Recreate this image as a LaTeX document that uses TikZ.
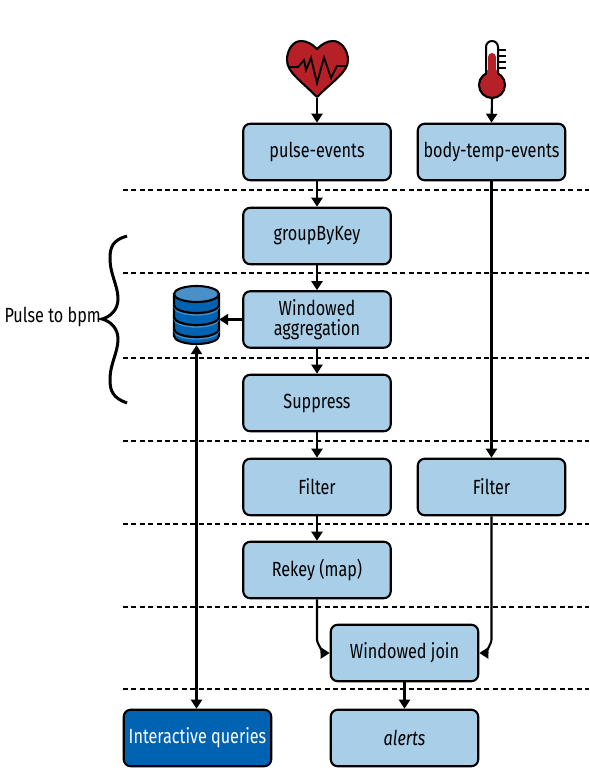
\documentclass[tikz,border=0pt]{standalone}
\usepackage{fontspec}
\setmainfont[FakeStretch=0.79]{Fira Sans}
\usetikzlibrary{arrows.meta}

\definecolor{boxblue}{RGB}{169,206,232}
\definecolor{deepblue}{RGB}{0,99,177}
\definecolor{paleblue}{RGB}{74,144,200}
\definecolor{heartred}{RGB}{184,32,40}

\tikzset{
 opbox/.style={draw,line width=2.1pt,rounded corners=7pt,fill=boxblue,
  minimum width=147.5pt,minimum height=56.5pt,font=\fontsize{20.5}{20.5}\selectfont,
  align=center,inner sep=0pt},
 iconspot/.style={inner sep=0pt,minimum width=#1},
 flow/.style={line width=2.1pt,-{Triangle[length=9pt,width=11pt]}},
 cut/.style={line width=1.6pt,dash pattern=on 5pt off 3.4pt},
}

\begin{document}
\begin{tikzpicture}[x=1pt,y=-1pt]
\useasboundingbox (0,0) rectangle (589,781);

% section lines
\foreach \yline in {190,273,358,441,524,607,689}
 \draw[cut] (123,\yline) -- (589,\yline);

% boxes
\node[opbox] (pulse) at (317,152) {pulse-events};
\node[opbox] (bodytemp) at (491.5,152) {body-temp-events};
\node[opbox] (group) at (317,236) {groupByKey};
\node[opbox] (windowed) at (317,319.5) {Windowed\\aggregation};
\node[opbox] (suppress) at (317,403) {Suppress};
\node[opbox] (filterl) at (317,487) {Filter};
\node[opbox] (filterr) at (491.5,487) {Filter};
\node[opbox] (rekey) at (317,570) {Rekey (map)};
\node[opbox] (join) at (404.5,653) {Windowed join};
\node[opbox,fill=deepblue,text=white] (queries) at (197.5,738) {Interactive queries};
\node[opbox] (alerts) at (404.5,738) {\itshape alerts};

% heart
\node[iconspot=62pt,minimum height=57pt] (heart) at (317,69) {};
\draw[line width=2.1pt,fill=heartred,line join=round] (317,49)
 .. controls (312,44) and (307,41) .. (301,41)
 .. controls (293,41) and (287,50) .. (287,60)
 .. controls (287,72) and (300,80) .. (317,97)
 .. controls (334,80) and (348,72) .. (348,60)
 .. controls (348,50) and (341,41) .. (333,41)
 .. controls (327,41) and (322,44) .. cycle;
\draw[line width=1.9pt,line join=miter] (289,67) -- (298,67) -- (304,60) -- (306,70)
 -- (311,58) -- (317,83) -- (324,57.5) -- (331,78) -- (337,66) -- (347,66);

% thermometer
\node[iconspot=26pt,minimum height=58pt] (thermo) at (492,69.5) {};
\draw[line width=2pt,fill=white] (486,75) -- (486,47) arc (180:360:6) -- (498,75) -- cycle;
\foreach \ytick in {50,56,62,68}
 \draw[line width=1.7pt] (498,\ytick) -- (506,\ytick);
\fill[heartred] (488,75) -- (488,57) arc (180:360:4) -- (496,75) -- cycle;
\draw[line width=2.1pt,fill=heartred] (492,85) circle (13);
\fill[heartred] (487,80) rectangle (497,70);
\draw[line width=2pt] (486,70) -- (486,74) (498,70) -- (498,74);

% state store
\node[iconspot=45pt,minimum height=59pt] (store) at (196.5,315.5) {};
\draw[line width=2.1pt,fill=deepblue] (174,294) -- (174,336)
 arc (180:0:22.5 and 8) -- (219,294) -- cycle;
\draw[line width=2.1pt,fill=paleblue] (196.5,294) ellipse (22.5 and 8);
\foreach \yband in {305,317,329} {
 \draw[paleblue,line width=1.3pt] (174,\yband+2) arc (180:0:22.5 and 8);
 \draw[line width=2.1pt] (174,\yband) arc (180:0:22.5 and 8);
}

% brace
\draw[line width=3pt] (127,236) .. controls (113,240) and (110,247) .. (110,258)
 .. controls (110,275) and (118,285) .. (118,299)
 .. controls (118,310) and (110,317) .. (102,319)
 .. controls (110,321) and (118,328) .. (118,339)
 .. controls (118,353) and (110,363) .. (110,380)
 .. controls (110,391) and (113,398) .. (127,403);
\node[anchor=east,inner sep=0pt,font=\fontsize{20.5}{20.5}\selectfont] (pulselabel) at (101,317) {Pulse to bpm};

% connectors
\draw[flow] (heart.south) -- (pulse.north);
\draw[flow] (thermo.south) -- (bodytemp.north);
\draw[flow] (pulse) -- (group);
\draw[flow] (group) -- (windowed);
\draw[flow] (windowed) -- (suppress);
\draw[flow] (windowed.west) -- (store.east |- windowed.west);
\draw[flow] (suppress) -- (filterl);
\draw[flow] (filterl) -- (rekey);
\draw[flow] (bodytemp) -- (filterr);
\draw[flow] (rekey.south) -- ++(0,40) to[out=270,in=180,looseness=.7] (join.west);
\draw[flow] (filterr.south) -- ++(0,123) to[out=270,in=0,looseness=.7] (join.east);
\draw[flow] (join) -- (alerts);
\draw[flow,{Triangle[length=9pt,width=11pt]}-{Triangle[length=9pt,width=11pt]}] (store.south) -- (queries.north -| store.south);
\end{tikzpicture}
\end{document}
